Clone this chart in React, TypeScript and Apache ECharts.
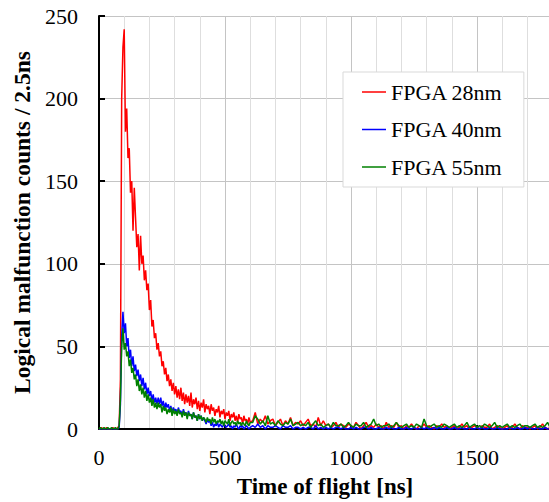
import React, { useEffect, useRef } from "react";
import * as echarts from "echarts";

// Time bins (ns): fine section 0..600 every 5 ns, coarse section 610..1800 every 10 ns
const fineStep = 5;
const coarseStart = 610;
const coarseStep = 10;

const seriesNames = ["FPGA 28nm", "FPGA 40nm", "FPGA 55nm"];
const seriesColors = ["#ff0000", "#0000ff", "#008000"];

// counts, t = 0..600 step 5
const red28Fine = [
  0, 0, 1, 0, 0, 0, 1, 0, 0, 0, 0, 1, 0, 0, 0, 1,
  2, 30, 200, 231, 242, 180, 194, 164, 170, 143, 150, 120, 146, 128, 110, 118,
  96, 117, 100, 105, 90, 96, 84, 88, 72, 78, 62, 66, 55, 58, 48, 52,
  44, 47, 38, 41, 33, 37, 29, 33, 26, 30, 23, 28, 21, 26, 19, 24,
  18, 25, 17, 22, 15, 21, 16, 20, 14, 22, 13, 18, 15, 19, 12, 17,
  11, 16, 13, 18, 10, 15, 12, 14, 9, 15, 11, 13, 8, 12, 10, 14,
  7, 11, 9, 12, 6, 10, 8, 11, 5, 9, 7, 10, 5, 8, 4, 9,
  6, 7, 3, 8, 5, 6, 3, 7, 4,
];
const blue40Fine = [
  0, 0, 0, 0, 0, 0, 0, 0, 0, 0, 0, 0, 0, 0, 0, 0,
  1, 15, 56, 71, 58, 64, 50, 55, 43, 48, 38, 44, 35, 39, 32, 36,
  29, 33, 26, 31, 24, 28, 21, 25, 20, 23, 17, 21, 16, 19, 15, 19,
  15, 19, 14, 17, 12, 16, 13, 15, 11, 14, 10, 13, 11, 12, 9, 13,
  10, 11, 8, 12, 9, 10, 7, 11, 8, 9, 6, 10, 7, 8, 5, 9,
  6, 8, 5, 7, 5, 3, 6, 4, 5, 2, 4, 1, 3, 2, 4, 1,
  3, 2, 1, 3, 2, 1, 2, 3, 1, 2, 0, 2, 1, 3, 1, 0,
  2, 1, 2, 0, 1, 2, 1, 0, 1,
];
const green55Fine = [
  0, 1, 0, 0, 1, 0, 0, 1, 0, 0, 1, 0, 0, 1, 0, 0,
  2, 18, 50, 61, 48, 52, 44, 47, 38, 42, 34, 37, 30, 33, 26, 30,
  23, 27, 21, 25, 19, 23, 17, 21, 16, 19, 14, 18, 13, 16, 12, 16,
  13, 15, 10, 14, 11, 13, 9, 12, 10, 13, 8, 12, 9, 11, 8, 12,
  9, 10, 7, 11, 8, 10, 6, 10, 8, 9, 6, 10, 7, 8, 5, 9,
  6, 8, 5, 7, 6, 4, 7, 5, 6, 3, 7, 4, 6, 3, 5, 4,
  6, 3, 5, 2, 5, 4, 3, 6, 2, 4, 5, 3, 4, 2, 5, 3,
  4, 2, 4, 3, 2, 5, 3, 2, 4,
];

// counts, t = 610..1800 step 10
const red28Coarse = [
  5, 10, 3, 6, 4, 8, 3, 5, 6, 2,
  4, 6, 2, 5, 3, 7, 2, 4, 3, 5,
  2, 4, 6, 2, 3, 1, 7, 2, 5, 2,
  3, 1, 2, 4, 1, 3, 2, 1, 3, 2,
  1, 4, 2, 0, 2, 4, 1, 2, 1, 3,
  1, 2, 0, 4, 1, 2, 1, 4, 1, 2,
  0, 2, 1, 3, 1, 0, 2, 1, 3, 1,
  2, 1, 0, 2, 1, 3, 1, 2, 0, 1,
  2, 0, 1, 3, 1, 2, 0, 1, 2, 1,
  0, 2, 1, 1, 3, 0, 1, 2, 1, 0,
  1, 2, 0, 1, 3, 1, 0, 2, 1, 1,
  0, 1, 2, 0, 1, 3, 1, 0, 1, 1,
];
const blue40Coarse = [
  2, 1, 3, 1, 2, 0, 2, 1, 1, 2,
  1, 0, 2, 1, 1, 2, 0, 1, 1, 0,
  1, 0, 1, 1, 0, 2, 0, 1, 0, 1,
  0, 1, 0, 1, 1, 0, 1, 0, 0, 1,
  0, 1, 0, 0, 1, 1, 0, 1, 0, 0,
  1, 0, 0, 1, 0, 1, 0, 0, 1, 0,
  0, 1, 0, 0, 1, 0, 0, 1, 0, 1,
  0, 0, 1, 0, 1, 0, 0, 1, 0, 0,
  1, 0, 0, 1, 0, 0, 1, 0, 0, 1,
  0, 1, 0, 0, 1, 0, 0, 1, 0, 0,
  0, 0, 1, 0, 0, 1, 0, 0, 1, 0,
  1, 0, 0, 1, 0, 0, 1, 0, 0, 1,
];
const green55Coarse = [
  4, 8, 6, 3, 5, 2, 8, 3, 4, 2,
  5, 3, 2, 4, 3, 6, 2, 3, 4, 2,
  3, 2, 4, 1, 3, 5, 2, 3, 1, 2,
  3, 1, 4, 2, 2, 3, 1, 2, 4, 2,
  1, 3, 2, 2, 4, 1, 2, 3, 6, 2,
  3, 1, 2, 2, 3, 1, 2, 4, 2, 1,
  2, 3, 1, 2, 1, 3, 2, 1, 6, 2,
  1, 2, 3, 1, 2, 1, 3, 2, 1, 2,
  3, 1, 2, 1, 2, 4, 1, 2, 3, 1,
  2, 1, 3, 2, 1, 2, 4, 1, 2, 1,
  2, 3, 1, 2, 1, 2, 3, 1, 2, 2,
  1, 2, 3, 1, 2, 1, 2, 4, 1, 2,
];

const xTickLabels = ["0", "500", "1000", "1500"];
const yTickLabels = ["0", "50", "100", "150", "200", "250"];

function toPairs(fine: number[], coarse: number[]): [number, number][] {
  const out: [number, number][] = [];
  fine.forEach((v, i) => out.push([i * fineStep, v]));
  coarse.forEach((v, i) => out.push([coarseStart + i * coarseStep, v]));
  return out;
}

const FONT = "Liberation Serif";

export default function App() {
  const ref = useRef<HTMLDivElement>(null);
  useEffect(() => {
    document.body.style.margin = "0";
    const chart = echarts.init(ref.current!, null, { renderer: "svg" });
    const values = [
      toPairs(red28Fine, red28Coarse),
      toPairs(blue40Fine, blue40Coarse),
      toPairs(green55Fine, green55Coarse),
    ];
    chart.setOption({
      animation: false,
      backgroundColor: "#ffffff",
      textStyle: { fontFamily: FONT },
      grid: {
        left: 99,
        top: 16,
        height: 413,
        width: 504,
        containLabel: false,
        outerBoundsMode: "none",
      },
      legend: {
        orient: "vertical",
        left: 343,
        top: 72,
        padding: [9, 21, 9, 19],
        itemGap: 15.5,
        itemWidth: 24,
        itemHeight: 1.5,
        icon: "rect",
        backgroundColor: "#ffffff",
        borderColor: "#d9d9d9",
        borderWidth: 1,
        textStyle: { fontFamily: FONT, fontSize: 22, color: "#000", lineHeight: 22 },
        data: seriesNames,
      },
      xAxis: {
        type: "value",
        min: 0,
        max: 2000,
        interval: 500,
        name: "Time of flight [ns]",
        nameLocation: "middle",
        nameGap: 46,
        nameTextStyle: {
          fontFamily: FONT,
          fontSize: 23,
          fontWeight: "bold",
          color: "#000",
          padding: [0, 52, 0, 0],
        },
        axisLine: { show: true, onZero: false, lineStyle: { color: "#000", width: 2 } },
        axisTick: { show: true, inside: true, length: 4, lineStyle: { color: "#000", width: 2 } },
        axisLabel: {
          fontFamily: FONT,
          fontSize: 22,
          color: "#000",
          margin: 17,
          showMaxLabel: false,
          formatter: (v: number) => {
            const s = String(v);
            return xTickLabels.indexOf(s) >= 0 ? s : "";
          },
        },
        splitLine: { show: true, lineStyle: { color: "#c4c4c4", width: 1 } },
        minorTick: { show: false, splitNumber: 5 },
        minorSplitLine: { show: true, lineStyle: { color: "#dedede", width: 1 } },
      },
      yAxis: {
        type: "value",
        min: 0,
        max: 250,
        interval: 50,
        name: "Logical malfunction counts / 2.5ns",
        nameLocation: "middle",
        nameGap: 63,
        nameTextStyle: { fontFamily: FONT, fontSize: 23.5, fontWeight: "bold", color: "#000" },
        axisLine: { show: true, lineStyle: { color: "#000", width: 2 } },
        axisTick: { show: true, inside: true, length: 6, lineStyle: { color: "#000", width: 2 } },
        axisLabel: {
          fontFamily: FONT,
          fontSize: 22,
          color: "#000",
          margin: 21,
          formatter: (v: number) => {
            const s = String(v);
            return yTickLabels.indexOf(s) >= 0 ? s : "";
          },
        },
        splitLine: { show: true, lineStyle: { color: "#c4c4c4", width: 1 } },
      },
      series: seriesNames.map((name, i) => ({
        name,
        type: "line",
        data: values[i],
        showSymbol: false,
        symbol: "none",
        color: seriesColors[i],
        lineStyle: { color: seriesColors[i], width: 1.5 },
        z: 2 + i,
      })),
    });
    return () => chart.dispose();
  }, []);
  return (
    <div
      ref={ref}
      style={{ position: "fixed", left: 0, top: 0, width: 549, height: 502, background: "#fff" }}
    />
  );
}
